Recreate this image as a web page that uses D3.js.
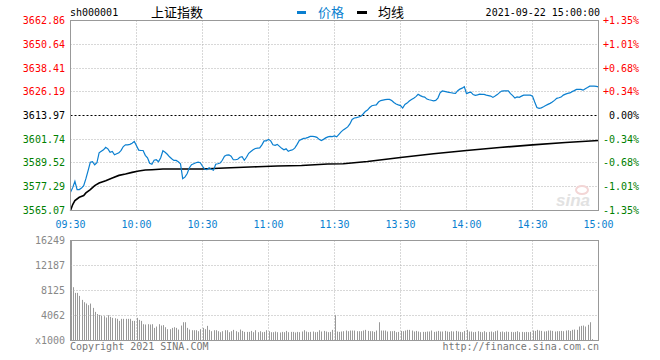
<!DOCTYPE html>
<html><head><meta charset="utf-8">
<script src="https://cdn.jsdelivr.net/npm/d3@7"></script>
<style>body{margin:0;background:#fff} svg{display:block}</style>
</head><body><svg id="c" width="660" height="360"></svg>
<script>
// ---------- data ----------
const priceTicks = [3662.86,3650.64,3638.41,3626.19,3613.97,3601.74,3589.52,3577.29,3565.07];
const pctTicks = ["+1.35%","+1.01%","+0.68%","+0.34%","0.00%","-0.34%","-0.68%","-1.01%","-1.35%"];
const timeLabels = ["09:30","10:00","10:30","11:00","11:30","13:30","14:00","14:30","15:00"];
const timeTickIndex = [0,30,60,90,120,150,180,210,240];
const volTickLabels = ["16249","12187","8125","4062","x1000"];
const volTickValues = [16249,12187,8125,4062,0];
const prevClose = 3613.97;

const price = [
3574.44,3576.84,3580.07,3575.82,3575.82,3576.59,3577.87,3581.45,3585.55,3589.90,
3590.16,3588.62,3589.64,3594.76,3595.53,3596.30,3597.58,3596.81,3595.02,3595.43,
3593.74,3594.25,3594.76,3596.04,3597.99,3598.86,3598.86,3599.12,3599.73,3600.65,
3598.35,3596.15,3595.94,3595.94,3593.48,3592.20,3589.39,3588.88,3590.92,3591.18,
3590.16,3592.20,3595.79,3595.02,3594.00,3592.72,3591.69,3590.82,3590.82,3590.16,
3589.13,3581.45,3582.22,3584.01,3586.93,3588.62,3589.13,3589.64,3590.00,3589.64,
3587.85,3586.32,3586.06,3587.08,3586.32,3585.80,3588.88,3589.13,3589.49,3590.92,
3592.97,3593.59,3593.74,3592.97,3591.18,3591.18,3591.44,3592.46,3592.72,3590.92,
3592.46,3594.51,3595.43,3596.30,3596.97,3597.17,3597.32,3598.86,3600.91,3600.91,
3601.68,3600.91,3598.86,3598.60,3599.12,3598.09,3597.07,3596.30,3596.81,3595.53,
3596.04,3596.30,3597.32,3599.12,3601.16,3601.68,3602.19,3602.34,3602.70,3603.21,
3603.21,3603.11,3602.70,3601.68,3601.06,3601.68,3602.44,3602.96,3603.21,3603.11,
3603.47,3602.96,3604.24,3605.52,3606.54,3607.31,3608.08,3609.61,3611.92,3612.68,
3612.84,3613.20,3613.55,3614.73,3616.01,3616.78,3618.06,3618.98,3619.24,3619.44,
3620.88,3621.64,3621.90,3622.16,3622.26,3622.26,3621.64,3620.62,3619.85,3619.44,
3619.08,3617.80,3619.60,3620.36,3621.39,3622.16,3622.82,3623.69,3624.87,3624.20,
3623.69,3623.44,3622.41,3622.05,3621.80,3621.54,3621.75,3622.92,3625.64,3626.61,
3626.41,3626.15,3625.89,3625.69,3625.48,3625.38,3626.76,3627.53,3628.04,3628.81,
3625.23,3625.74,3626.00,3624.72,3624.31,3624.56,3624.97,3624.87,3624.82,3624.46,
3624.20,3623.95,3623.28,3623.95,3624.72,3625.74,3626.51,3626.61,3626.66,3626.66,
3625.23,3624.20,3622.92,3623.54,3623.33,3623.95,3624.46,3624.46,3624.46,3624.46,
3623.95,3620.88,3618.06,3617.65,3617.91,3618.47,3619.08,3619.70,3620.21,3620.88,
3621.75,3622.77,3623.08,3623.44,3624.46,3624.97,3625.33,3625.59,3626.25,3626.76,
3627.38,3627.38,3627.38,3627.02,3627.79,3628.40,3629.07,3629.07,3629.07,3628.97,3628.71];

const avgIndex = [0,1,2,4,6,7,9,11,13,16,19,22,25,28,31,34,37,42,60,70,85,94,105,117,124,135,150,165,180,195,210,225,240];
const avgValues = [3565.07,3568.14,3570.19,3571.88,3572.75,3574.13,3575.82,3577.87,3579.25,3580.43,3581.81,3583.14,3583.86,3584.68,3585.39,3585.91,3586.06,3586.42,3586.45,3586.93,3587.60,3587.95,3588.26,3588.98,3589.13,3590.31,3592.36,3594.25,3595.94,3597.48,3598.86,3600.04,3601.06];

const volume = [16249,
8660,7740,7740,7250,6600,6220,6010,5740,6000,5300,4650,4300,4160,4000,3950,3730,4110,3840,3680,3620,3520,3190,3520,3520,3520,3520,3520,3190,3190,3680,3350,3190,
2650,2600,2650,2600,2650,2050,2270,2650,2430,2500,2160,1840,1840,2050,2160,2050,1780,2430,2970,2970,2050,1780,1670,1670,1670,1510,1840,2050,
1840,2380,1730,1510,1670,1670,1510,1350,1510,1670,1670,1350,1510,1730,1510,1350,1780,1560,1400,1400,1400,1560,1350,1670,1350,1510,1350,1400,1670,1510,
1350,1350,1450,1350,1300,1400,1350,1560,1350,1400,1400,1300,1400,1350,1460,1670,1460,1350,1400,1460,1350,1400,1670,1460,1560,1460,1350,1400,1730,4160,
1460,1400,1460,1510,1620,1510,1620,1620,1620,1510,1510,1510,1620,1730,1560,1510,1510,1400,1620,2970,1620,1620,1620,1460,1510,1510,1560,1350,1400,1560,
1510,1620,1730,1730,1620,1460,1560,1460,1350,1400,1400,1460,1460,1620,1400,1460,1560,1460,1460,1560,1460,1400,1510,1460,1560,1460,1400,1350,1560,1730,
1460,1460,1350,1400,1510,1400,1350,1510,1350,1400,1460,1350,1510,1620,1400,1460,1350,1460,1400,1400,1350,1400,1510,1350,1400,1350,1400,1350,1400,1620,
1560,1730,1620,1560,1460,1510,1620,1620,1560,1460,1510,1510,1560,1510,1620,1670,1560,1730,1780,1730,2270,2380,2430,2270,2550,2970,210,0,0,0];

// ---------- layout ----------
const svg = d3.select("#c");
const L = 70.5, R = 598.5, T = 20.5, B = 210.5;
const VT = 240.5, VB = 340.5;
const mono = "'DejaVu Sans Mono', monospace";
const gridCol = "#b0b0b0", borderCol = "#999";

const x = d3.scaleLinear().domain([0, 240]).range([L, R]);
const y = d3.scaleLinear().domain([priceTicks[8], priceTicks[0]]).range([B, T]);
const yv = d3.scaleLinear().domain([0, 16249]).range([VB, VT]).clamp(true);

// header
svg.append("text").attr("x", 70).attr("y", 16).attr("font-family", mono).attr("font-size", 10).attr("fill", "#000").text("sh000001");
svg.append("text").attr("x", 151).attr("y", 17).attr("font-family", "'Noto Sans CJK SC'").attr("font-size", 13).attr("fill", "#000").text("上证指数");
svg.append("rect").attr("x", 297).attr("y", 11).attr("width", 9).attr("height", 3).attr("fill", "#0a7fd0");
svg.append("text").attr("x", 318).attr("y", 17).attr("font-family", "'Noto Sans CJK SC'").attr("font-size", 13).attr("fill", "#0a7fd0").text("价格");
svg.append("rect").attr("x", 357).attr("y", 11).attr("width", 10).attr("height", 3).attr("fill", "#000");
svg.append("text").attr("x", 378).attr("y", 17).attr("font-family", "'Noto Sans CJK SC'").attr("font-size", 13).attr("fill", "#000").text("均线");
svg.append("text").attr("x", 600).attr("y", 16).attr("text-anchor", "end").attr("font-family", mono).attr("font-size", 10).attr("fill", "#000").text("2021-09-22 15:00:00");

// main grid
const gMain = svg.append("g");
priceTicks.slice(1, 8).forEach((v, k) => {
  const yy = Math.round(y(v) - 0.5) + 0.5;
  gMain.append("line").attr("x1", L).attr("x2", R).attr("y1", yy).attr("y2", yy)
    .attr("stroke", v === prevClose ? "#000" : gridCol)
    .attr("stroke-dasharray", v === prevClose ? "2,2" : "1,2");
});
timeTickIndex.slice(1, 8).forEach(i => {
  const xx = Math.round(x(i) - 0.5) + 0.5;
  gMain.append("line").attr("x1", xx).attr("x2", xx).attr("y1", T).attr("y2", B)
    .attr("stroke", gridCol).attr("stroke-dasharray", "1,2");
});

// watermark
svg.append("text").attr("x", 556).attr("y", 206).attr("font-family", "'Liberation Sans'").attr("font-style", "italic")
  .attr("font-weight", "bold").attr("font-size", 17).attr("fill", "#e2e2e2").text("sina");
svg.append("ellipse").attr("cx", 582).attr("cy", 190).attr("rx", 6).attr("ry", 4).attr("fill", "none").attr("stroke", "#f3d6d6").attr("stroke-width", 2);

// average line
const avgLine = d3.line().x(d => x(d[0])).y(d => y(d[1]));
svg.append("path").datum(avgIndex.map((d, k) => [d, avgValues[k]]))
  .attr("d", avgLine).attr("fill", "none").attr("stroke", "#000").attr("stroke-width", 1.6);

// price line
const pLine = d3.line().x((d, i) => x(i)).y(d => y(d));
svg.append("path").datum(price).attr("d", pLine).attr("fill", "none").attr("stroke", "#0a7fd0").attr("stroke-width", 1.2);

// main border
svg.append("rect").attr("x", L).attr("y", T).attr("width", R - L).attr("height", B - T)
  .attr("fill", "none").attr("stroke", borderCol);

// left/right price labels
priceTicks.forEach((v, k) => {
  const col = k < 4 ? "#ff0000" : (k === 4 ? "#000" : "#008000");
  svg.append("text").attr("x", 65).attr("y", y(v)).attr("dy", "0.35em").attr("text-anchor", "end")
    .attr("font-family", mono).attr("font-size", 10).attr("fill", col).text(v.toFixed(2));
  svg.append("text").attr("x", 639).attr("y", y(v)).attr("dy", "0.35em").attr("text-anchor", "end")
    .attr("font-family", mono).attr("font-size", 10).attr("fill", col).text(pctTicks[k]);
});

// time labels
timeTickIndex.forEach((i, k) => {
  svg.append("text").attr("x", x(i)).attr("y", 224).attr("dy", "0.35em").attr("text-anchor", "middle")
    .attr("font-family", mono).attr("font-size", 10).attr("fill", "#0a7fd0").text(timeLabels[k]);
});

// volume bars
svg.append("g").selectAll("rect").data(volume).join("rect")
  .attr("x", (d, i) => Math.round(x(i)))
  .attr("y", d => yv(d)).attr("width", 1).attr("height", d => VB - yv(d))
  .attr("fill", "#999");

// volume grid
volTickValues.slice(1, 4).forEach(v => {
  svg.append("line").attr("x1", L).attr("x2", R).attr("y1", yv(v)).attr("y2", yv(v))
    .attr("stroke", gridCol).attr("stroke-dasharray", "1,2");
});
timeTickIndex.slice(1, 8).forEach(i => {
  const xx = Math.round(x(i) - 0.5) + 0.5;
  svg.append("line").attr("x1", xx).attr("x2", xx).attr("y1", VT).attr("y2", VB)
    .attr("stroke", gridCol).attr("stroke-dasharray", "1,2");
});
svg.append("rect").attr("x", L).attr("y", VT).attr("width", R - L).attr("height", VB - VT)
  .attr("fill", "none").attr("stroke", borderCol);

volTickValues.forEach((v, k) => {
  svg.append("text").attr("x", 65).attr("y", yv(v)).attr("dy", "0.35em").attr("text-anchor", "end")
    .attr("font-family", mono).attr("font-size", 10).attr("fill", "#888").text(volTickLabels[k]);
});

// footer
svg.append("text").attr("x", 70).attr("y", 346).attr("dy", "0.35em").attr("font-family", mono).attr("font-size", 10).attr("fill", "#777").text("Copyright 2021 SINA.COM");
svg.append("text").attr("x", 599).attr("y", 346).attr("dy", "0.35em").attr("text-anchor", "end").attr("font-family", mono).attr("font-size", 10).attr("fill", "#777").text("http://finance.sina.com.cn");
</script></body></html>
